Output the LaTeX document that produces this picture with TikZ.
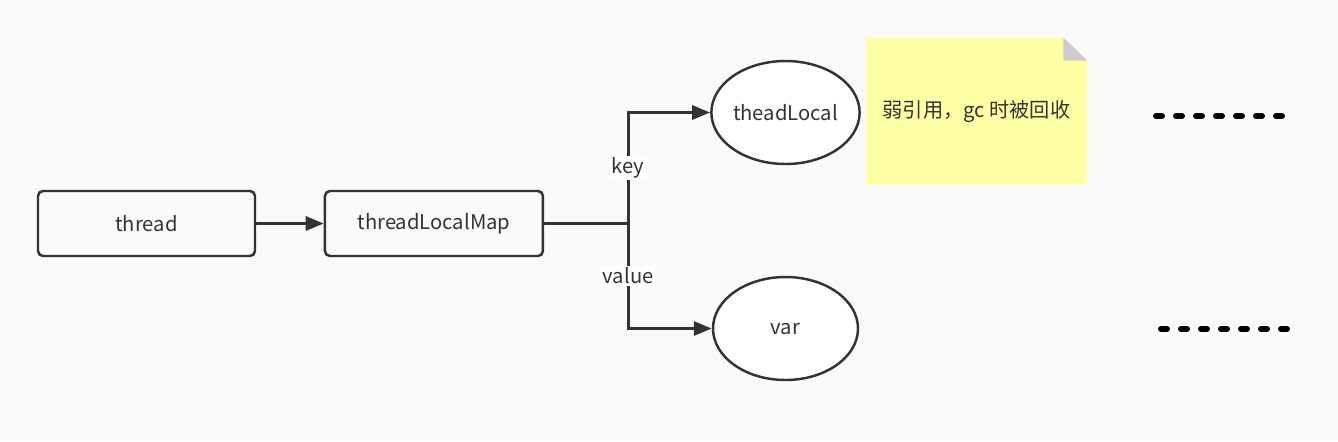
\documentclass[tikz,border=0pt]{standalone}
\usepackage{fontspec}
\setmainfont{Noto Sans CJK SC}
\usetikzlibrary{positioning,shapes.geometric,arrows.meta,calc}
\definecolor{ink}{HTML}{333333}
\definecolor{bgcol}{HTML}{FAFAFA}
\definecolor{notecol}{HTML}{FFFFA6}
\definecolor{foldcol}{HTML}{CCCCCC}

\begin{document}
\begin{tikzpicture}[>={Triangle[length=3.6mm,width=2.8mm]}, font=\fontsize{11.5}{13}\selectfont, color=ink]
  \fill[bgcol] (0,0) rectangle (26.76,-8.82);
  \useasboundingbox (0,0) rectangle (26.76,-8.82);

  \node[draw, line width=1.4pt, rounded corners=1mm, minimum width=4.34cm, minimum height=1.3cm] (Thread) at (2.93,-4.47) {thread};
  \node[draw, line width=1.4pt, rounded corners=1mm, minimum width=4.36cm, minimum height=1.3cm, right=1.35cm of Thread] (Map) {threadLocalMap};
  \coordinate[right=1.68cm of Map] (Split);

  \node[draw, ellipse, line width=1.4pt, fill=white, inner sep=0pt, minimum width=2.9cm, minimum height=2.06cm] (TL) at (15.71,-2.25) {theadLocal};
  \node[draw, ellipse, line width=1.4pt, fill=white, inner sep=0pt, minimum width=2.9cm, minimum height=2.06cm] (Var) at (15.71,-6.57) {var};

  \node[fill=notecol, minimum width=4.42cm, minimum height=2.94cm] (Note) at (19.53,-2.23) {弱引用，gc 时被回收};
  \fill[bgcol] ($(Note.north east)+(-0.48,0)$) -- (Note.north east) -- ++(0,-0.46) -- cycle;
  \fill[foldcol] ($(Note.north east)+(-0.48,0)$) -- ($(Note.north east)+(-0.48,-0.46)$) -- ($(Note.north east)+(0,-0.46)$) -- cycle;

  \draw[->, line width=1.7pt] (Thread) -- (Map);
  \draw[line width=1.7pt] (Map) -- (Split);
  \draw[->, line width=1.7pt] (Split) |- (TL) node[pos=0.25, fill=white, inner sep=1pt] {key};
  \draw[->, line width=1.7pt] (Split) |- (Var) node[pos=0.25, fill=white, inner sep=1pt] {value};

  % more entries
  \draw[black, line width=0.12cm, line cap=round, dash pattern=on 0.12cm off 0.28cm] (23.12,-2.32) -- (25.64,-2.32);
  \draw[black, line width=0.12cm, line cap=round, dash pattern=on 0.12cm off 0.28cm] (23.22,-6.58) -- (25.74,-6.58);
\end{tikzpicture}
\end{document}
